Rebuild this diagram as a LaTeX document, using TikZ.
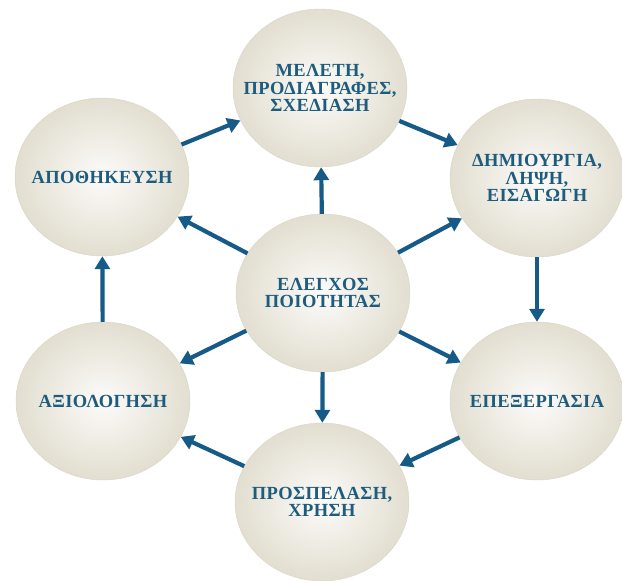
\documentclass[tikz,border=0pt]{standalone}
\usepackage{fontspec}
\setmainfont{LiberationSerif}[Extension=.ttf, UprightFont=*-Regular, BoldFont=*-Bold, LetterSpace=2]
\usepackage{xcolor}
\usepackage{tikz}
\usetikzlibrary{arrows.meta, shapes.geometric}

\definecolor{arrowblue}{RGB}{22,90,135}
\definecolor{labelblue}{RGB}{30,92,125}
\definecolor{discin}{RGB}{252,251,249}
\definecolor{discout}{RGB}{226,222,208}

\begin{document}
\begin{tikzpicture}[
  x=1pt, y=-1pt,
  font=\fontsize{18.5}{17.5}\selectfont\bfseries,
  >={Triangle[length=13pt, width=15pt]},
  stage/.style={
    ellipse, inner xsep=-22pt, inner ysep=0pt,
    minimum width=174pt, minimum height=158pt,
    inner color=discin, outer color=discout, draw=discout!90!gray,
    line width=0.4pt, text=labelblue, align=center
  },
  flow/.style={->, arrowblue, line width=4.2pt}
]
\useasboundingbox (0,0) rectangle (622,581);

% Outer ring of stages, clockwise from the top
\node[stage] (plan) at (320,88) {ΜΕΛΕΤΗ,\\ΠΡΟΔΙΑΓΡΑΦΕΣ,\\ΣΧΕΔΙΑΣΗ};
\node[stage] (create) at (537,178) {ΔΗΜΙΟΥΡΓΙΑ,\\ΛΗΨΗ,\\ΕΙΣΑΓΩΓΗ};
\node[stage] (process) at (537,401) {ΕΠΕΞΕΡΓΑΣΙΑ};
\node[stage] (access) at (322,502) {ΠΡΟΣΠΕΛΑΣΗ,\\ΧΡΗΣΗ};
\node[stage] (assess) at (103,401) {ΑΞΙΟΛΟΓΗΣΗ};
\node[stage] (store) at (102,177) {ΑΠΟΘΗΚΕΥΣΗ};

% Hub
\node[stage] (qc) at (323,293) {ΕΛΕΓΧΟΣ\\ΠΟΙΟΤΗΤΑΣ};

% Ring arrows
\draw[flow] (plan) -- (create);
\draw[flow] (create) -- (process);
\draw[flow] (process) -- (access);
\draw[flow] (access) -- (assess);
\draw[flow] (assess) -- (store);
\draw[flow] (store) -- (plan);

% Hub arrows
\foreach \s in {plan, create, process, access, assess, store}
  \draw[flow] (qc) -- (\s);

\end{tikzpicture}
\end{document}
